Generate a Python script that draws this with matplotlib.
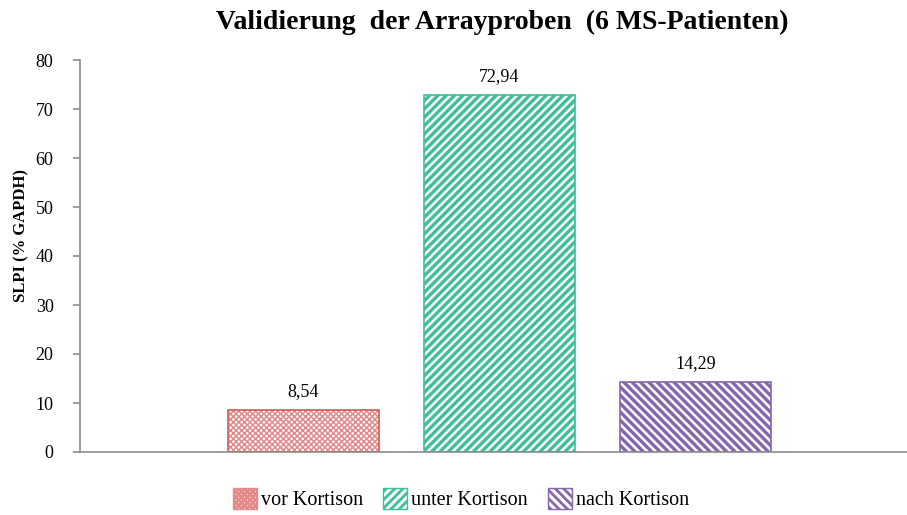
import matplotlib
matplotlib.use("Agg")
import matplotlib.pyplot as plt
import matplotlib.patches as mpatches

categories = ["vor Kortison", "unter Kortison", "nach Kortison"]
values = [8.54, 72.94, 14.29]
value_labels = ["8,54", "72,94", "14,29"]
yticks = [0, 10, 20, 30, 40, 50, 60, 70, 80]

edge_colors = ["#D05B5B", "#3DBF9B", "#8566AC"]
hatch_colors = ["#E48A8A", "#3DBF9B", "#8566AC"]
hatches = ["xxxxxx", "////", "\\\\\\\\"]
hatch_lw = [1.1, 2.4, 2.4]

plt.rcParams['font.family'] = ['Liberation Serif', 'DejaVu Serif']

fig = plt.figure(figsize=(9.07, 5.15), dpi=100)
ax = fig.add_axes([80/907, 63/515, 827/907, 392/515])

xs = list(range(len(categories)))
handles = []
for x, v, ec, hc, h, hl, lab, cat in zip(xs, values, edge_colors, hatch_colors, hatches, hatch_lw, value_labels, categories):
    with plt.rc_context({'hatch.linewidth': hl}):
        b = ax.bar(x, v, width=0.77, color="white", edgecolor=hc, hatch=h, linewidth=0)
        if hasattr(b[0], "set_hatch_linewidth"):
            b[0].set_hatch_linewidth(hl)
        p = mpatches.Patch(facecolor="white", edgecolor=hc, hatch=h, linewidth=1.0, label=cat)
        if hasattr(p, "set_hatch_linewidth"):
            p.set_hatch_linewidth(hl)
    ax.bar(x, v, width=0.77, fill=False, edgecolor=ec, linewidth=1.2)
    handles.append(p)
    ax.text(x, v + 2.0, lab, ha="center", va="bottom", fontsize=13)

ax.set_xlim(-1.140, 3.079)
ax.set_ylim(0, 80)
ax.set_yticks(yticks)
ax.set_yticklabels([str(t) for t in yticks], fontsize=13)
ax.set_xticks([])
for s in ["top", "right"]:
    ax.spines[s].set_visible(False)
for s in ["left", "bottom"]:
    ax.spines[s].set_color("#8c8c8c")
    ax.spines[s].set_linewidth(1.2)
ax.tick_params(axis="y", color="#8c8c8c", length=5, width=1.2, pad=14)

fig.text(21/907, 1 - 236/515, "SLPI (% GAPDH)", rotation=90, ha="center", va="center",
         fontsize=12, fontweight="bold")
fig.text(502/907, 1 - 22/515, "Validierung  der Arrayproben  (6 MS-Patienten)", ha="center", va="center",
         fontsize=20, fontweight="bold")

with plt.rc_context({'hatch.linewidth': 2.0}):
    leg = fig.legend(handles=handles, loc="center", bbox_to_anchor=(461/907, 1 - 499/515), ncol=3, frameon=False,
                     fontsize=14.5, handlelength=1.2, handleheight=1.2, handletextpad=0.2,
                     columnspacing=1.0)

fig.savefig("out.png", dpi=100)
